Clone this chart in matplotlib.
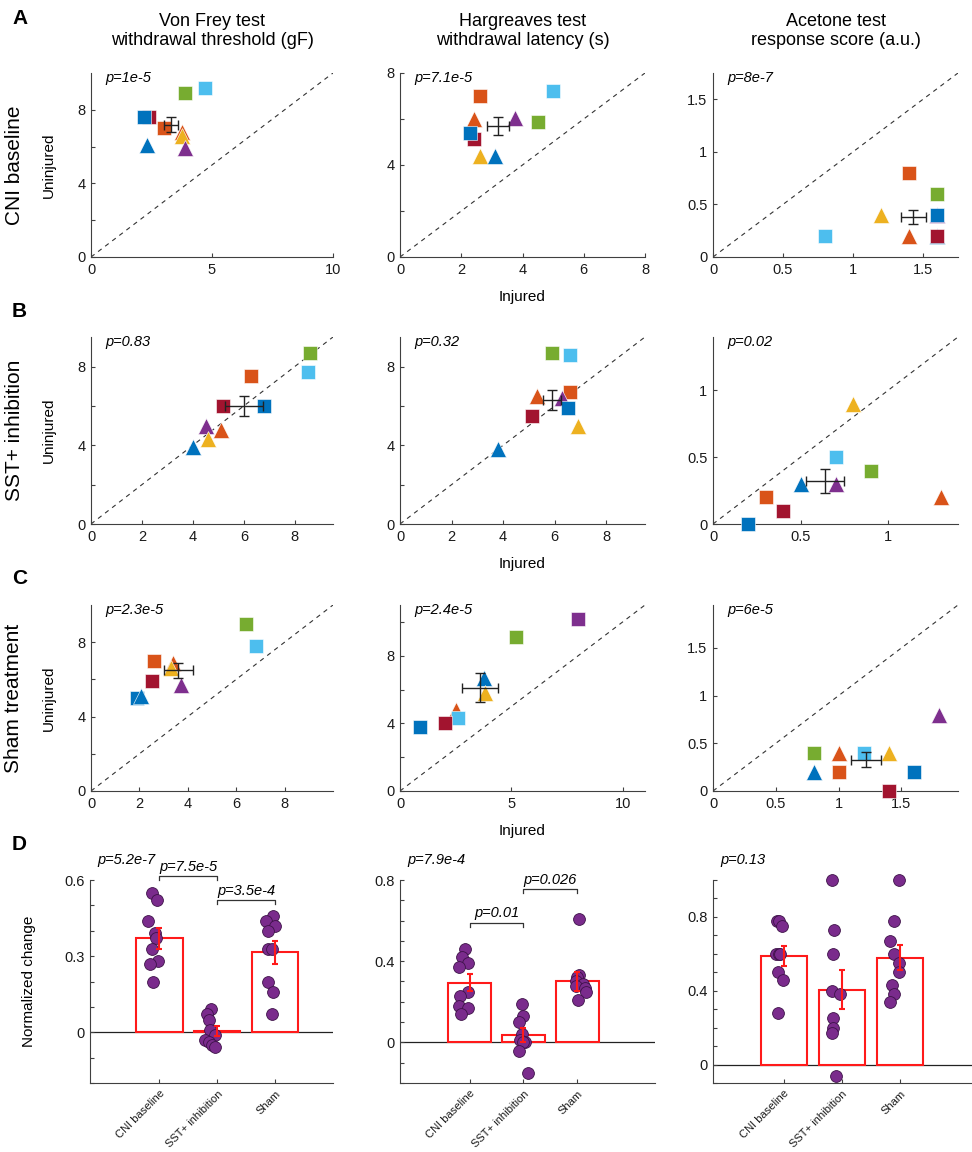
import matplotlib
matplotlib.use("Agg")
import matplotlib.pyplot as plt

plt.rcParams['font.family'] = ['Liberation Sans', 'DejaVu Sans']

W, H = 972, 1152

# MATLAB default colours, one per animal colour code
colors = {'b': '#0072BD', 'o': '#D95319', 'y': '#EDB120', 'p': '#7E2F8E',
          'g': '#77AC30', 'c': '#4DBEEE', 'r': '#A2142F'}

test_titles = ["Von Frey test\nwithdrawal threshold (gF)",
               "Hargreaves test\nwithdrawal latency (s)",
               "Acetone test\nresponse score (a.u.)"]
row_titles = ["CNI baseline", "SST+ inhibition", "Sham treatment"]
row_letters = ["A", "B", "C"]

# ---- scatter data: animal code (colour + s/t shape), injured, uninjured ----
a1_ids = ['cs', 'gs', 'rs', 'bs', 'os', 'ot', 'yt', 'bt', 'pt']
a1_inj = [4.7, 3.9, 2.4, 2.2, 3.0, 3.75, 3.75, 2.3, 3.9]
a1_uni = [9.2, 8.9, 7.6, 7.6, 7.0, 6.8, 6.6, 6.1, 5.9]

a2_ids = ['os', 'cs', 'ot', 'pt', 'gs', 'rs', 'bs', 'yt', 'bt']
a2_inj = [2.6, 5.0, 2.4, 3.75, 4.5, 2.4, 2.3, 2.6, 3.1]
a2_uni = [7.0, 7.2, 6.0, 6.05, 5.85, 5.15, 5.4, 4.4, 4.4]

a3_ids = ['cs', 'yt', 'os', 'ot', 'gs', 'pt', 'bs', 'bt', 'rs']
a3_inj = [0.8, 1.2, 1.4, 1.4, 1.6, 1.6, 1.6, 1.6, 1.6]
a3_uni = [0.2, 0.4, 0.8, 0.2, 0.6, 0.4, 0.4, 0.2, 0.2]

b1_ids = ['gs', 'cs', 'os', 'rs', 'bs', 'pt', 'ot', 'yt', 'bt']
b1_inj = [8.6, 8.5, 6.3, 5.2, 6.8, 4.5, 5.1, 4.6, 4.0]
b1_uni = [8.7, 7.7, 7.5, 6.0, 6.0, 5.0, 4.8, 4.3, 3.9]

b2_ids = ['gs', 'cs', 'ot', 'os', 'pt', 'bs', 'rs', 'yt', 'bt']
b2_inj = [5.9, 6.6, 5.3, 6.6, 6.3, 6.5, 5.1, 6.9, 3.8]
b2_uni = [8.7, 8.6, 6.5, 6.7, 6.4, 5.9, 5.5, 5.0, 3.8]

b3_ids = ['yt', 'cs', 'gs', 'bt', 'pt', 'os', 'rs', 'bs', 'ot']
b3_inj = [0.8, 0.7, 0.9, 0.5, 0.7, 0.3, 0.4, 0.2, 1.3]
b3_uni = [0.9, 0.5, 0.4, 0.3, 0.3, 0.2, 0.1, 0.0, 0.2]

c1_ids = ['gs', 'cs', 'os', 'ot', 'yt', 'rs', 'pt', 'bs', 'bt']
c1_inj = [6.4, 6.8, 2.6, 3.4, 3.3, 2.5, 3.7, 1.9, 2.05]
c1_uni = [9.0, 7.8, 7.0, 6.9, 6.6, 5.9, 5.7, 5.0, 5.1]

c2_ids = ['ps', 'gs', 'bt', 'yt', 'ot', 'cs', 'rs', 'bs']
c2_inj = [8.0, 5.2, 3.75, 3.8, 2.5, 2.6, 2.0, 0.9]
c2_uni = [10.2, 9.1, 6.7, 5.8, 4.8, 4.3, 4.0, 3.8]

c3_ids = ['pt', 'gs', 'ot', 'cs', 'yt', 'bt', 'os', 'bs', 'rs']
c3_inj = [1.8, 0.8, 1.0, 1.2, 1.4, 0.8, 1.0, 1.6, 1.4]
c3_uni = [0.8, 0.4, 0.4, 0.4, 0.4, 0.2, 0.2, 0.2, 0.0]

# mean (x, y) and sem (x, y)
means = [[(3.3, 7.2), (3.2, 5.7), (1.43, 0.38)],
         [(6.0, 6.0), (5.9, 6.3), (0.64, 0.32)],
         [(3.6, 6.5), (3.6, 6.1), (1.22, 0.33)]]
sems = [[(0.28, 0.4), (0.35, 0.4), (0.09, 0.07)],
        [(0.75, 0.5), (0.35, 0.5), (0.11, 0.09)],
        [(0.6, 0.4), (0.8, 0.85), (0.12, 0.08)]]
pvals = [["p=1e-5", "p=7.1e-5", "p=8e-7"],
         ["p=0.83", "p=0.32", "p=0.02"],
         ["p=2.3e-5", "p=2.4e-5", "p=6e-5"]]

lims = [[10, 8, 1.75], [9.5, 9.5, 1.4], [10, 11, 1.95]]
xticks = [[[0, 5, 10], [0, 2, 4, 6, 8], [0, 0.5, 1, 1.5]],
          [[0, 2, 4, 6, 8], [0, 2, 4, 6, 8], [0, 0.5, 1]],
          [[0, 2, 4, 6, 8], [0, 5, 10], [0, 0.5, 1, 1.5]]]
yticks = [[[0, 2, 4, 6, 8], [0, 2, 4, 6, 8], [0, 0.5, 1, 1.5]],
          [[0, 2, 4, 6, 8], [0, 2, 4, 6, 8], [0, 0.5, 1]],
          [[0, 2, 4, 6, 8], [0, 2, 4, 6, 8, 10], [0, 0.5, 1, 1.5]]]

scatter_data = [[(a1_ids, a1_inj, a1_uni), (a2_ids, a2_inj, a2_uni), (a3_ids, a3_inj, a3_uni)],
                [(b1_ids, b1_inj, b1_uni), (b2_ids, b2_inj, b2_uni), (b3_ids, b3_inj, b3_uni)],
                [(c1_ids, c1_inj, c1_uni), (c2_ids, c2_inj, c2_uni), (c3_ids, c3_inj, c3_uni)]]

# ---- normalized change (panel D) ----
groups = ["CNI baseline", "SST+ inhibition", "Sham"]
d_means = [[0.37, 0.005, 0.315], [0.295, 0.035, 0.30], [0.59, 0.405, 0.58]]
d_sems = [[0.04, 0.018, 0.045], [0.04, 0.035, 0.045], [0.055, 0.105, 0.07]]

d1_vals = [[0.55, 0.52, 0.44, 0.39, 0.37, 0.33, 0.28, 0.27, 0.20],
           [0.09, 0.07, 0.05, 0.01, -0.01, -0.03, -0.04, -0.05, -0.06],
           [0.46, 0.44, 0.42, 0.40, 0.33, 0.33, 0.20, 0.16, 0.07]]
d1_jit = [[-0.13, -0.05, -0.2, -0.07, -0.06, -0.13, -0.03, -0.16, -0.11],
          [-0.11, -0.17, -0.15, -0.13, -0.04, -0.21, -0.15, -0.09, -0.04],
          [-0.03, -0.16, -0.01, -0.13, -0.13, -0.05, -0.13, -0.03, -0.05]]
d2_vals = [[0.46, 0.42, 0.39, 0.37, 0.25, 0.23, 0.18, 0.17, 0.14],
           [0.19, 0.13, 0.10, 0.04, 0.01, 0.0, 0.0, -0.04, -0.15],
           [0.61, 0.33, 0.32, 0.30, 0.29, 0.28, 0.27, 0.25, 0.21]]
d2_jit = [[-0.09, -0.14, -0.04, -0.2, -0.03, -0.19, -0.2, -0.04, -0.16],
          [-0.03, 0.0, -0.08, -0.02, -0.06, 0.03, 0.0, -0.08, 0.08],
          [0.04, 0.04, 0.0, -0.03, 0.11, -0.03, 0.14, 0.16, 0.02]]
d3_vals = [[0.78, 0.78, 0.75, 0.60, 0.60, 0.60, 0.50, 0.46, 0.28],
           [1.0, 0.73, 0.60, 0.40, 0.38, 0.25, 0.20, 0.17, -0.06],
           [1.0, 0.78, 0.67, 0.60, 0.55, 0.50, 0.43, 0.38, 0.34]]
d3_jit = [[-0.11, -0.08, -0.03, -0.13, -0.08, -0.06, -0.1, -0.02, -0.1],
          [-0.17, -0.14, -0.16, -0.17, -0.03, -0.16, -0.16, -0.17, -0.1],
          [-0.01, -0.11, -0.18, -0.11, -0.02, -0.02, -0.14, -0.11, -0.17]]
d_vals = [d1_vals, d2_vals, d3_vals]
d_jit = [d1_jit, d2_jit, d3_jit]
d_ylims = [(-0.2, 0.6), (-0.2, 0.8), (-0.1, 1.0)]
d_xlims = [(-0.2, 4.0), (-0.3, 4.45), (-0.22, 4.24)]
d_yticks = [[-0.2, -0.1, 0, 0.1, 0.2, 0.3, 0.4, 0.5, 0.6],
            [-0.2, -0.1, 0, 0.1, 0.2, 0.3, 0.4, 0.5, 0.6, 0.7, 0.8],
            [-0.1, 0, 0.1, 0.2, 0.3, 0.4, 0.5, 0.6, 0.7, 0.8, 0.9, 1.0]]
d_ylabels = [{0: '0', 0.3: '0.3', 0.6: '0.6'}, {0: '0', 0.4: '0.4', 0.8: '0.8'},
             {0: '0', 0.4: '0.4', 0.8: '0.8'}]
d_pall = ["p=5.2e-7", "p=7.9e-4", "p=0.13"]
# brackets: (group a, group b, height, label)
d_brackets = [[(1, 2, 0.615, "p=7.5e-5"), (2, 3, 0.52, "p=3.5e-4")],
              [(1, 2, 0.59, "p=0.01"), (2, 3, 0.755, "p=0.026")],
              []]

# axes boxes in pixels: left, top, right, bottom
col_lr = [(91, 333), (400, 645), (713, 958)]
row_tb = [(73, 257), (337, 524), (605, 791)]
letter_y = [18, 312, 578, 845]
d_boxes = [(90, 880, 333, 1083), (400, 880, 655, 1083), (713, 880, 972, 1083)]

AX_COL = '#404040'


def box(l, t, r, b):
    return [l / W, 1 - b / H, (r - l) / W, (b - t) / H]


def style(ax):
    for s in ['top', 'right']:
        ax.spines[s].set_visible(False)
    for s in ['left', 'bottom']:
        ax.spines[s].set_color(AX_COL)
        ax.spines[s].set_linewidth(0.8)
    ax.tick_params(direction='in', length=3, width=0.8, color=AX_COL,
                   labelsize=10.5, labelcolor='#1a1a1a', pad=4)


def fmt(v):
    return '%g' % v


fig = plt.figure(figsize=(W / 100, H / 100), dpi=100)

for r in range(3):
    for c in range(3):
        l, rr = col_lr[c]
        t, b = row_tb[r]
        ax = fig.add_axes(box(l, t, rr, b))
        style(ax)
        lim = lims[r][c]
        ax.set_xlim(0, lim)
        ax.set_ylim(0, lim)
        ax.plot([0, lim], [0, lim], ls=(0, (4, 4)), color='#333333', lw=0.8)
        ids, inj, uni = scatter_data[r][c]
        for code, x, y in zip(ids, inj, uni):
            col = colors[code[0]]
            if code[1] == 's':
                ax.plot(x, y, 's', ms=10, color=col, mec='#ffffff', mew=0.4,
                        clip_on=False, zorder=3)
            else:
                ax.plot(x, y, '^', ms=11.5, color=col, mec='#ffffff', mew=0.4,
                        clip_on=False, zorder=3)
        mx, my = means[r][c]
        ex, ey = sems[r][c]
        ax.errorbar(mx, my, xerr=ex, yerr=ey, color='#222222', lw=1, capsize=3.5,
                    capthick=1, zorder=4)
        ax.set_xticks(xticks[r][c])
        ax.set_xticklabels([fmt(v) for v in xticks[r][c]])
        yt = yticks[r][c]
        ax.set_yticks(yt)
        if c < 2:
            ax.set_yticklabels([fmt(v) if v % 4 == 0 else '' for v in yt])
        else:
            ax.set_yticklabels([fmt(v) for v in yt])
        ax.text(0.06, 0.975, pvals[r][c], transform=ax.transAxes, style='italic',
                fontsize=10.5, va='center', ha='left')
        if c == 0:
            ax.set_ylabel("Uninjured", fontsize=11, labelpad=15)
        if c == 1:
            ax.set_xlabel("Injured", fontsize=11, labelpad=10)
        if r == 0:
            ax.set_title(test_titles[c], fontsize=13, pad=20, linespacing=1.15)

for r in range(3):
    t, b = row_tb[r]
    fig.text(14 / W, 1 - (t + b) / 2 / H, row_titles[r], rotation=90, fontsize=15,
             ha='center', va='center')
for i, letter in enumerate(row_letters + ["D"]):
    fig.text(12 / W, 1 - letter_y[i] / H, letter, fontsize=15, weight='bold',
             ha='left', va='center')

xs = [1, 2, 3]
for k in range(3):
    ax = fig.add_axes(box(*d_boxes[k]))
    style(ax)
    ax.set_xlim(*d_xlims[k])
    ax.set_ylim(*d_ylims[k])
    ax.axhline(0, color='#222222', lw=0.9, zorder=1)
    ax.bar(xs, d_means[k], width=0.8, facecolor='white', edgecolor='#ff1a1a',
           lw=1.5, zorder=2)
    for i in range(3):
        ax.plot([xs[i] + j for j in d_jit[k][i]], d_vals[k][i], 'o', ms=8.5,
                color='#7a2b8c', mec='#3d1248', mew=0.6, zorder=3, clip_on=False)
    ax.errorbar(xs, d_means[k], yerr=d_sems[k], fmt='none', ecolor='#ff1a1a',
                lw=1.5, capsize=2.5, capthick=1.5, zorder=4)
    ax.set_xticks(xs)
    ax.set_xticklabels(groups, rotation=45, ha='right', rotation_mode='anchor',
                       fontsize=8)
    ax.set_yticks(d_yticks[k])
    ax.set_yticklabels([d_ylabels[k].get(round(v, 1), '') for v in d_yticks[k]])
    for g1, g2, h, lab in d_brackets[k]:
        span = d_ylims[k][1] - d_ylims[k][0]
        tick = 0.02 * span
        ax.plot([g1, g1, g2, g2], [h - tick, h, h, h - tick], color='#333333',
                lw=0.9, clip_on=False)
        ax.text((g1 + g2) / 2, h + 0.012 * span, lab, style='italic', fontsize=10.5,
                ha='center', va='bottom')
    ax.text(0.03, 1.1, d_pall[k], transform=ax.transAxes, style='italic',
            fontsize=10.5, ha='left', va='center')
    if k == 0:
        ax.set_ylabel("Normalized change", fontsize=11, labelpad=20)

fig.savefig("out.png", dpi=100)
